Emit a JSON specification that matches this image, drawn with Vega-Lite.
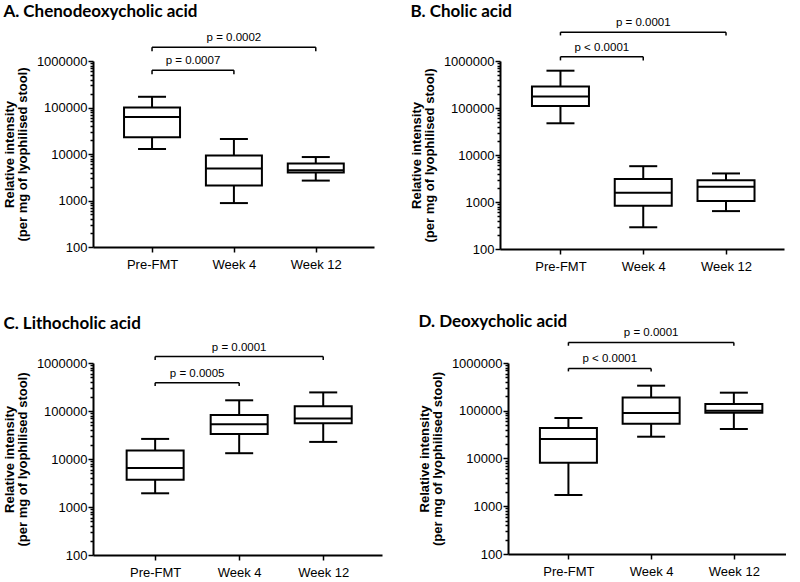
{
  "$schema": "https://vega.github.io/schema/vega-lite/v6.json",
  "background": "white",
  "padding": {"left": 3, "top": 3, "right": 0, "bottom": 0},
  "datasets": {
    "boxes": [
      {"panel": "A", "g": 1, "lo": 12800, "q1": 23000, "med": 62500, "q3": 100000, "hi": 170000},
      {"panel": "A", "g": 2, "lo": 880, "q1": 2090, "med": 4850, "q3": 9250, "hi": 21000},
      {"panel": "A", "g": 3, "lo": 2680, "q1": 3980, "med": 4460, "q3": 6210, "hi": 8600},
      {"panel": "B", "g": 1, "lo": 47300, "q1": 110000, "med": 175000, "q3": 285000, "hi": 622000},
      {"panel": "B", "g": 2, "lo": 290, "q1": 830, "med": 1570, "q3": 3070, "hi": 5780},
      {"panel": "B", "g": 3, "lo": 640, "q1": 1045, "med": 2100, "q3": 2920, "hi": 4050},
      {"panel": "C", "g": 1, "lo": 1930, "q1": 3700, "med": 6480, "q3": 15100, "hi": 26200},
      {"panel": "C", "g": 2, "lo": 13200, "q1": 33300, "med": 53000, "q3": 82600, "hi": 167000},
      {"panel": "C", "g": 3, "lo": 22700, "q1": 55600, "med": 69500, "q3": 125000, "hi": 244000},
      {"panel": "D", "g": 1, "lo": 1720, "q1": 8170, "med": 25600, "q3": 43500, "hi": 70500},
      {"panel": "D", "g": 2, "lo": 28600, "q1": 53600, "med": 89800, "q3": 190000, "hi": 335000},
      {"panel": "D", "g": 3, "lo": 41500, "q1": 91000, "med": 100000, "q3": 138000, "hi": 239000}
    ],
    "brackets": [
      {"panel": "A", "from": 1, "to": 3, "mid": 2, "level": 1970000, "foot": 1620000, "label": "p = 0.0002"},
      {"panel": "A", "from": 1, "to": 2, "mid": 1.5, "level": 631000, "foot": 518000, "label": "p = 0.0007"},
      {"panel": "B", "from": 1, "to": 3, "mid": 2, "level": 4110000, "foot": 3500000, "label": "p = 0.0001"},
      {"panel": "B", "from": 1, "to": 2, "mid": 1.5, "level": 1233000, "foot": 1030000, "label": "p < 0.0001"},
      {"panel": "C", "from": 1, "to": 3, "mid": 2, "level": 1365000, "foot": 1160000, "label": "p = 0.0001"},
      {"panel": "C", "from": 1, "to": 2, "mid": 1.5, "level": 388000, "foot": 330000, "label": "p = 0.0005"},
      {"panel": "D", "from": 1, "to": 3, "mid": 2, "level": 2700000, "foot": 2300000, "label": "p = 0.0001"},
      {"panel": "D", "from": 1, "to": 2, "mid": 1.5, "level": 771000, "foot": 667000, "label": "p < 0.0001"}
    ]
  },
  "config": {
    "view": {"stroke": null},
    "axis": {
      "grid": false,
      "domainColor": "black",
      "domainWidth": 2,
      "tickColor": "black",
      "tickWidth": 1.5,
      "labelColor": "black",
      "labelFont": "Liberation Sans",
      "labelFontSize": 13,
      "titleFont": "Liberation Sans",
      "titleFontSize": 13,
      "titleLineHeight": 13,
      "titleFontWeight": "bold",
      "titleColor": "black"
    },
    "title": {"font": "Lato", "fontSize": 17, "fontWeight": "bold", "color": "black", "anchor": "start", "frame": "bounds"},
    "text": {"font": "Liberation Sans", "fontSize": 11.5, "color": "black"}
  },
  "vconcat": [
    {"hconcat": [
      {
        "width": 281, "height": 186,
        "title": {"text": "A. Chenodeoxycholic acid", "offset": 11},
        "layer": [
          {"data": {"name": "boxes"}, "transform": [{"filter": "datum.panel == 'A'"}], "mark": {"type": "rule", "color": "black", "strokeWidth": 2},
           "encoding": {
             "x": {"field": "g", "type": "quantitative", "scale": {"domain": [0.34, 3.65], "nice": false, "zero": false}, "axis": {"title": null, "values": [1, 2, 3], "labelExpr": "datum.value == 1 ? 'Pre-FMT' : datum.value == 2 ? 'Week 4' : 'Week 12'", "tickSize": 5, "labelPadding": 6}},
             "y": {"field": "lo", "type": "quantitative", "scale": {"type": "log", "domain": [100, 1000000], "nice": false}, "axis": {"title": ["Relative intensity", "(per mg of lyophilised stool)"], "values": [100,200,300,400,500,600,700,800,900,1000,2000,3000,4000,5000,6000,7000,8000,9000,10000,20000,30000,40000,50000,60000,70000,80000,90000,100000,200000,300000,400000,500000,600000,700000,800000,900000,1000000], "labelExpr": "abs(log(datum.value)/LN10 - round(log(datum.value)/LN10)) < 0.001 ? format(datum.value, 'd') : ''", "labelOverlap": false, "labelPadding": 1, "tickSize": {"condition": {"test": "abs(log(datum.value)/LN10 - round(log(datum.value)/LN10)) < 0.001", "value": 5}, "value": 3}, "titlePadding": 7}},
             "y2": {"field": "hi"}}},
          {"data": {"name": "boxes"}, "transform": [{"filter": "datum.panel == 'A'"}], "mark": {"type": "bar", "size": 56, "fill": "white", "stroke": "black", "strokeWidth": 2},
           "encoding": {"x": {"field": "g", "type": "quantitative"}, "y": {"field": "q1", "type": "quantitative"}, "y2": {"field": "q3"}}},
          {"data": {"name": "boxes"}, "transform": [{"filter": "datum.panel == 'A'"}], "mark": {"type": "tick", "orient": "horizontal", "size": 56, "thickness": 2, "color": "black", "opacity": 1},
           "encoding": {"x": {"field": "g", "type": "quantitative"}, "y": {"field": "med", "type": "quantitative"}}},
          {"data": {"name": "boxes"}, "transform": [{"filter": "datum.panel == 'A'"}], "mark": {"type": "tick", "orient": "horizontal", "size": 28, "thickness": 2, "color": "black", "opacity": 1},
           "encoding": {"x": {"field": "g", "type": "quantitative"}, "y": {"field": "lo", "type": "quantitative"}}},
          {"data": {"name": "boxes"}, "transform": [{"filter": "datum.panel == 'A'"}], "mark": {"type": "tick", "orient": "horizontal", "size": 28, "thickness": 2, "color": "black", "opacity": 1},
           "encoding": {"x": {"field": "g", "type": "quantitative"}, "y": {"field": "hi", "type": "quantitative"}}},
          {"data": {"name": "brackets"}, "transform": [{"filter": "datum.panel == 'A'"}], "mark": {"type": "rule", "color": "black", "strokeWidth": 1.5},
           "encoding": {"x": {"field": "from", "type": "quantitative"}, "x2": {"field": "to"}, "y": {"field": "level", "type": "quantitative"}}},
          {"data": {"name": "brackets"}, "transform": [{"filter": "datum.panel == 'A'"}], "mark": {"type": "rule", "color": "black", "strokeWidth": 1.5},
           "encoding": {"x": {"field": "from", "type": "quantitative"}, "y": {"field": "level", "type": "quantitative"}, "y2": {"field": "foot"}}},
          {"data": {"name": "brackets"}, "transform": [{"filter": "datum.panel == 'A'"}], "mark": {"type": "rule", "color": "black", "strokeWidth": 1.5},
           "encoding": {"x": {"field": "to", "type": "quantitative"}, "y": {"field": "level", "type": "quantitative"}, "y2": {"field": "foot"}}},
          {"data": {"name": "brackets"}, "transform": [{"filter": "datum.panel == 'A'"}], "mark": {"type": "text", "baseline": "alphabetic", "dy": -6},
           "encoding": {"x": {"field": "mid", "type": "quantitative"}, "y": {"field": "level", "type": "quantitative"}, "text": {"field": "label"}}}
        ]
      },
      {
        "width": 284, "height": 188,
        "title": {"text": "B. Cholic acid", "offset": -4},
        "layer": [
          {"data": {"name": "boxes"}, "transform": [{"filter": "datum.panel == 'B'"}], "mark": {"type": "rule", "color": "black", "strokeWidth": 2},
           "encoding": {
             "x": {"field": "g", "type": "quantitative", "scale": {"domain": [0.33, 3.64], "nice": false, "zero": false}, "axis": {"title": null, "values": [1, 2, 3], "labelExpr": "datum.value == 1 ? 'Pre-FMT' : datum.value == 2 ? 'Week 4' : 'Week 12'", "tickSize": 5, "labelPadding": 6}},
             "y": {"field": "lo", "type": "quantitative", "scale": {"type": "log", "domain": [100, 1000000], "nice": false}, "axis": {"title": ["Relative intensity", "(per mg of lyophilised stool)"], "values": [100,200,300,400,500,600,700,800,900,1000,2000,3000,4000,5000,6000,7000,8000,9000,10000,20000,30000,40000,50000,60000,70000,80000,90000,100000,200000,300000,400000,500000,600000,700000,800000,900000,1000000], "labelExpr": "abs(log(datum.value)/LN10 - round(log(datum.value)/LN10)) < 0.001 ? format(datum.value, 'd') : ''", "labelOverlap": false, "labelPadding": 1, "tickSize": {"condition": {"test": "abs(log(datum.value)/LN10 - round(log(datum.value)/LN10)) < 0.001", "value": 5}, "value": 3}, "titlePadding": 7}},
             "y2": {"field": "hi"}}},
          {"data": {"name": "boxes"}, "transform": [{"filter": "datum.panel == 'B'"}], "mark": {"type": "bar", "size": 57, "fill": "white", "stroke": "black", "strokeWidth": 2},
           "encoding": {"x": {"field": "g", "type": "quantitative"}, "y": {"field": "q1", "type": "quantitative"}, "y2": {"field": "q3"}}},
          {"data": {"name": "boxes"}, "transform": [{"filter": "datum.panel == 'B'"}], "mark": {"type": "tick", "orient": "horizontal", "size": 57, "thickness": 2, "color": "black", "opacity": 1},
           "encoding": {"x": {"field": "g", "type": "quantitative"}, "y": {"field": "med", "type": "quantitative"}}},
          {"data": {"name": "boxes"}, "transform": [{"filter": "datum.panel == 'B'"}], "mark": {"type": "tick", "orient": "horizontal", "size": 28, "thickness": 2, "color": "black", "opacity": 1},
           "encoding": {"x": {"field": "g", "type": "quantitative"}, "y": {"field": "lo", "type": "quantitative"}}},
          {"data": {"name": "boxes"}, "transform": [{"filter": "datum.panel == 'B'"}], "mark": {"type": "tick", "orient": "horizontal", "size": 28, "thickness": 2, "color": "black", "opacity": 1},
           "encoding": {"x": {"field": "g", "type": "quantitative"}, "y": {"field": "hi", "type": "quantitative"}}},
          {"data": {"name": "brackets"}, "transform": [{"filter": "datum.panel == 'B'"}], "mark": {"type": "rule", "color": "black", "strokeWidth": 1.5},
           "encoding": {"x": {"field": "from", "type": "quantitative"}, "x2": {"field": "to"}, "y": {"field": "level", "type": "quantitative"}}},
          {"data": {"name": "brackets"}, "transform": [{"filter": "datum.panel == 'B'"}], "mark": {"type": "rule", "color": "black", "strokeWidth": 1.5},
           "encoding": {"x": {"field": "from", "type": "quantitative"}, "y": {"field": "level", "type": "quantitative"}, "y2": {"field": "foot"}}},
          {"data": {"name": "brackets"}, "transform": [{"filter": "datum.panel == 'B'"}], "mark": {"type": "rule", "color": "black", "strokeWidth": 1.5},
           "encoding": {"x": {"field": "to", "type": "quantitative"}, "y": {"field": "level", "type": "quantitative"}, "y2": {"field": "foot"}}},
          {"data": {"name": "brackets"}, "transform": [{"filter": "datum.panel == 'B'"}], "mark": {"type": "text", "baseline": "alphabetic", "dy": -6},
           "encoding": {"x": {"field": "mid", "type": "quantitative"}, "y": {"field": "level", "type": "quantitative"}, "text": {"field": "label"}}}
        ]
      }
    ], "spacing": 36},
    {"hconcat": [
      {
        "width": 289, "height": 192,
        "title": {"text": "C. Lithocholic acid", "offset": 9},
        "layer": [
          {"data": {"name": "boxes"}, "transform": [{"filter": "datum.panel == 'C'"}], "mark": {"type": "rule", "color": "black", "strokeWidth": 2},
           "encoding": {
             "x": {"field": "g", "type": "quantitative", "scale": {"domain": [0.32, 3.64], "nice": false, "zero": false}, "axis": {"title": null, "values": [1, 2, 3], "labelExpr": "datum.value == 1 ? 'Pre-FMT' : datum.value == 2 ? 'Week 4' : 'Week 12'", "tickSize": 5, "labelPadding": 6}},
             "y": {"field": "lo", "type": "quantitative", "scale": {"type": "log", "domain": [100, 1000000], "nice": false}, "axis": {"title": ["Relative intensity", "(per mg of lyophilised stool)"], "values": [100,200,300,400,500,600,700,800,900,1000,2000,3000,4000,5000,6000,7000,8000,9000,10000,20000,30000,40000,50000,60000,70000,80000,90000,100000,200000,300000,400000,500000,600000,700000,800000,900000,1000000], "labelExpr": "abs(log(datum.value)/LN10 - round(log(datum.value)/LN10)) < 0.001 ? format(datum.value, 'd') : ''", "labelOverlap": false, "labelPadding": 1, "tickSize": {"condition": {"test": "abs(log(datum.value)/LN10 - round(log(datum.value)/LN10)) < 0.001", "value": 5}, "value": 3}, "titlePadding": 7}},
             "y2": {"field": "hi"}}},
          {"data": {"name": "boxes"}, "transform": [{"filter": "datum.panel == 'C'"}], "mark": {"type": "bar", "size": 57, "fill": "white", "stroke": "black", "strokeWidth": 2},
           "encoding": {"x": {"field": "g", "type": "quantitative"}, "y": {"field": "q1", "type": "quantitative"}, "y2": {"field": "q3"}}},
          {"data": {"name": "boxes"}, "transform": [{"filter": "datum.panel == 'C'"}], "mark": {"type": "tick", "orient": "horizontal", "size": 57, "thickness": 2, "color": "black", "opacity": 1},
           "encoding": {"x": {"field": "g", "type": "quantitative"}, "y": {"field": "med", "type": "quantitative"}}},
          {"data": {"name": "boxes"}, "transform": [{"filter": "datum.panel == 'C'"}], "mark": {"type": "tick", "orient": "horizontal", "size": 28, "thickness": 2, "color": "black", "opacity": 1},
           "encoding": {"x": {"field": "g", "type": "quantitative"}, "y": {"field": "lo", "type": "quantitative"}}},
          {"data": {"name": "boxes"}, "transform": [{"filter": "datum.panel == 'C'"}], "mark": {"type": "tick", "orient": "horizontal", "size": 28, "thickness": 2, "color": "black", "opacity": 1},
           "encoding": {"x": {"field": "g", "type": "quantitative"}, "y": {"field": "hi", "type": "quantitative"}}},
          {"data": {"name": "brackets"}, "transform": [{"filter": "datum.panel == 'C'"}], "mark": {"type": "rule", "color": "black", "strokeWidth": 1.5},
           "encoding": {"x": {"field": "from", "type": "quantitative"}, "x2": {"field": "to"}, "y": {"field": "level", "type": "quantitative"}}},
          {"data": {"name": "brackets"}, "transform": [{"filter": "datum.panel == 'C'"}], "mark": {"type": "rule", "color": "black", "strokeWidth": 1.5},
           "encoding": {"x": {"field": "from", "type": "quantitative"}, "y": {"field": "level", "type": "quantitative"}, "y2": {"field": "foot"}}},
          {"data": {"name": "brackets"}, "transform": [{"filter": "datum.panel == 'C'"}], "mark": {"type": "rule", "color": "black", "strokeWidth": 1.5},
           "encoding": {"x": {"field": "to", "type": "quantitative"}, "y": {"field": "level", "type": "quantitative"}, "y2": {"field": "foot"}}},
          {"data": {"name": "brackets"}, "transform": [{"filter": "datum.panel == 'C'"}], "mark": {"type": "text", "baseline": "alphabetic", "dy": -6},
           "encoding": {"x": {"field": "mid", "type": "quantitative"}, "y": {"field": "level", "type": "quantitative"}, "text": {"field": "label"}}}
        ]
      },
      {
        "width": 278, "height": 191,
        "title": {"text": "D. Deoxycholic acid", "offset": -4},
        "layer": [
          {"data": {"name": "boxes"}, "transform": [{"filter": "datum.panel == 'D'"}], "mark": {"type": "rule", "color": "black", "strokeWidth": 2},
           "encoding": {
             "x": {"field": "g", "type": "quantitative", "scale": {"domain": [0.33, 3.57], "nice": false, "zero": false}, "axis": {"title": null, "values": [1, 2, 3], "labelExpr": "datum.value == 1 ? 'Pre-FMT' : datum.value == 2 ? 'Week 4' : 'Week 12'", "tickSize": 5, "labelPadding": 6}},
             "y": {"field": "lo", "type": "quantitative", "scale": {"type": "log", "domain": [100, 1000000], "nice": false}, "axis": {"title": ["Relative intensity", "(per mg of lyophilised stool)"], "values": [100,200,300,400,500,600,700,800,900,1000,2000,3000,4000,5000,6000,7000,8000,9000,10000,20000,30000,40000,50000,60000,70000,80000,90000,100000,200000,300000,400000,500000,600000,700000,800000,900000,1000000], "labelExpr": "abs(log(datum.value)/LN10 - round(log(datum.value)/LN10)) < 0.001 ? format(datum.value, 'd') : ''", "labelOverlap": false, "labelPadding": 1, "tickSize": {"condition": {"test": "abs(log(datum.value)/LN10 - round(log(datum.value)/LN10)) < 0.001", "value": 5}, "value": 3}, "titlePadding": 7}},
             "y2": {"field": "hi"}}},
          {"data": {"name": "boxes"}, "transform": [{"filter": "datum.panel == 'D'"}], "mark": {"type": "bar", "size": 57, "fill": "white", "stroke": "black", "strokeWidth": 2},
           "encoding": {"x": {"field": "g", "type": "quantitative"}, "y": {"field": "q1", "type": "quantitative"}, "y2": {"field": "q3"}}},
          {"data": {"name": "boxes"}, "transform": [{"filter": "datum.panel == 'D'"}], "mark": {"type": "tick", "orient": "horizontal", "size": 57, "thickness": 2, "color": "black", "opacity": 1},
           "encoding": {"x": {"field": "g", "type": "quantitative"}, "y": {"field": "med", "type": "quantitative"}}},
          {"data": {"name": "boxes"}, "transform": [{"filter": "datum.panel == 'D'"}], "mark": {"type": "tick", "orient": "horizontal", "size": 28, "thickness": 2, "color": "black", "opacity": 1},
           "encoding": {"x": {"field": "g", "type": "quantitative"}, "y": {"field": "lo", "type": "quantitative"}}},
          {"data": {"name": "boxes"}, "transform": [{"filter": "datum.panel == 'D'"}], "mark": {"type": "tick", "orient": "horizontal", "size": 28, "thickness": 2, "color": "black", "opacity": 1},
           "encoding": {"x": {"field": "g", "type": "quantitative"}, "y": {"field": "hi", "type": "quantitative"}}},
          {"data": {"name": "brackets"}, "transform": [{"filter": "datum.panel == 'D'"}], "mark": {"type": "rule", "color": "black", "strokeWidth": 1.5},
           "encoding": {"x": {"field": "from", "type": "quantitative"}, "x2": {"field": "to"}, "y": {"field": "level", "type": "quantitative"}}},
          {"data": {"name": "brackets"}, "transform": [{"filter": "datum.panel == 'D'"}], "mark": {"type": "rule", "color": "black", "strokeWidth": 1.5},
           "encoding": {"x": {"field": "from", "type": "quantitative"}, "y": {"field": "level", "type": "quantitative"}, "y2": {"field": "foot"}}},
          {"data": {"name": "brackets"}, "transform": [{"filter": "datum.panel == 'D'"}], "mark": {"type": "rule", "color": "black", "strokeWidth": 1.5},
           "encoding": {"x": {"field": "to", "type": "quantitative"}, "y": {"field": "level", "type": "quantitative"}, "y2": {"field": "foot"}}},
          {"data": {"name": "brackets"}, "transform": [{"filter": "datum.panel == 'D'"}], "mark": {"type": "text", "baseline": "alphabetic", "dy": -6},
           "encoding": {"x": {"field": "mid", "type": "quantitative"}, "y": {"field": "level", "type": "quantitative"}, "text": {"field": "label"}}}
        ]
      }
    ], "spacing": 36}
  ],
  "spacing": 40
}
